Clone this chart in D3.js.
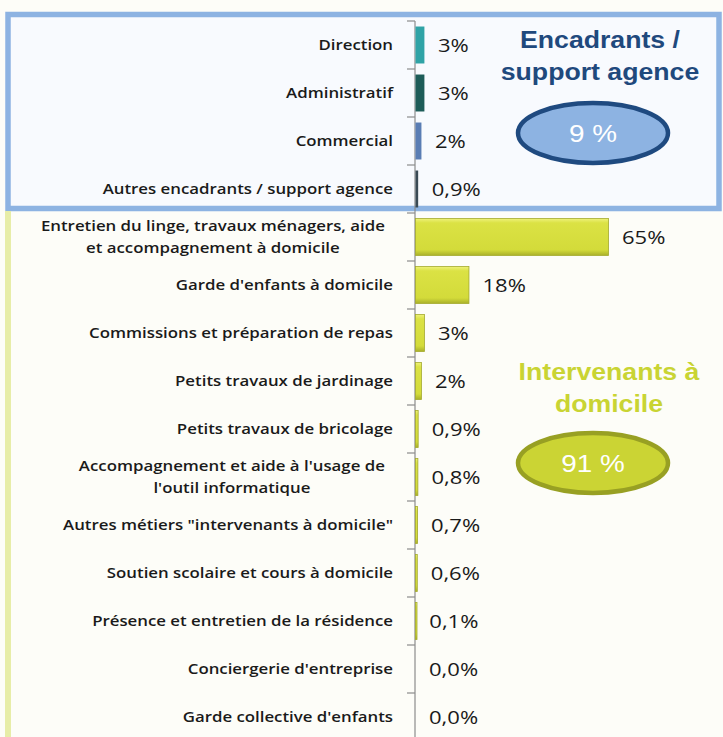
<!DOCTYPE html>
<html>
<head>
<meta charset="utf-8">
<script src="https://cdn.jsdelivr.net/npm/d3@7"></script>
<style>
  body { margin: 0; background: #fdfdf8; }
  svg { display: block; }
</style>
</head>
<body>
<div id="chart-area"></div>
<script>
// categories (top to bottom) - "\n" marks a line break in the label
let categories = [
	"Direction",
	"Administratif",
	"Commercial",
	"Autres encadrants / support agence",
	"Entretien du linge, travaux ménagers, aide\net accompagnement à domicile",
	"Garde d'enfants à domicile",
	"Commissions et préparation de repas",
	"Petits travaux de jardinage",
	"Petits travaux de bricolage",
	"Accompagnement et aide à l'usage de\nl'outil informatique",
	"Autres métiers \"intervenants à domicile\"",
	"Soutien scolaire et cours à domicile",
	"Présence et entretien de la résidence",
	"Conciergerie d'entreprise",
	"Garde collective d'enfants"
];
// share of jobs, %
let values = [3, 3, 2, 0.9, 65, 18, 3, 2, 0.9, 0.8, 0.7, 0.6, 0.1, 0.0, 0.0];
// group of each category
let groups = ["enc", "enc", "enc", "enc", "int", "int", "int", "int", "int", "int", "int", "int", "int", "int", "int"];

let groupTitles = {enc: ["Encadrants /", "support agence"], int: ["Intervenants à", "domicile"]};
let groupTotals = {enc: "9 %", int: "91 %"};

drawChart();

function drawChart() {
	let width = 723, height = 737;
	// the original picture is a bit stretched horizontally
	let stretch = 1.16;

	let svg = d3.select("#chart-area").append("svg")
		.attr("width", width)
		.attr("height", height);

	let defs = svg.append("defs");
	let grad = defs.append("linearGradient").attr("id", "bevel")
		.attr("x1", 0).attr("y1", 0).attr("x2", 0).attr("y2", 1);
	grad.append("stop").attr("offset", "0%").attr("stop-color", "#eef27a");
	grad.append("stop").attr("offset", "12%").attr("stop-color", "#dbe244");
	grad.append("stop").attr("offset", "85%").attr("stop-color", "#d3db3a");
	grad.append("stop").attr("offset", "100%").attr("stop-color", "#a9b02a");

	// background panels
	svg.append("rect")
		.attr("x", 8).attr("y", 14.5)
		.attr("width", 711).attr("height", 194)
		.attr("fill", "#f8fafe")
		.attr("stroke", "#8db3e2")
		.attr("stroke-width", 5.5);

	svg.append("line")
		.attr("x1", 8).attr("x2", 8)
		.attr("y1", 211).attr("y2", height)
		.attr("stroke", "#e7eda8")
		.attr("stroke-width", 6);

	// scales
	let y = d3.scaleBand()
		.domain(categories)
		.range([21, 741])
		.paddingInner(0.23)
		.paddingOuter(0.115);

	let x = d3.scaleLinear()
		.domain([0, 65])
		.range([415, 608]);

	let barColor = d3.scaleOrdinal()
		.domain(categories.slice(0, 4))
		.range(["#2fa3a6", "#1d5c58", "#5a7db4", "#3a4a55"])
		.unknown("url(#bevel)");

	// axis line and ticks at band boundaries
	let step = y.step();
	let boundaries = d3.range(categories.length + 1).map(i => 21 + i * step);

	svg.append("line")
		.attr("x1", x(0)).attr("x2", x(0))
		.attr("y1", 21).attr("y2", height)
		.attr("stroke", "#8c8c8c")
		.attr("stroke-width", 1.2);

	svg.selectAll(".tick-line").data(boundaries)
		.enter().append("line")
		.attr("class", "tick-line")
		.attr("x1", x(0) - 8).attr("x2", x(0))
		.attr("y1", d => d).attr("y2", d => d)
		.attr("stroke", "#8c8c8c")
		.attr("stroke-width", 1.2);

	// bars
	svg.selectAll(".bar").data(categories)
		.enter().append("rect")
		.attr("class", "bar")
		.attr("x", x(0) + 0.5)
		.attr("y", d => y(d))
		.attr("width", (d, i) => Math.max(x(values[i]) - x(0), values[i] > 0 ? 1.5 : 0))
		.attr("height", y.bandwidth())
		.attr("fill", d => barColor(d))
		.attr("stroke", (d, i) => groups[i] == "int" ? "#a3aa2c" : "none")
		.attr("stroke-width", 0.8);

	// value labels
	let fmt = v => v >= 1 ? d3.format(".0f")(v) + "%" : d3.format(".1f")(v).replace(".", ",") + "%";

	svg.selectAll(".value").data(categories)
		.enter().append("text")
		.attr("class", "value")
		.attr("transform", (d, i) => "translate(" + (x(values[i]) + 14) + "," + (y(d) + y.bandwidth() / 2) + ") scale(" + stretch + ",1)")
		.attr("dy", "0.35em")
		.attr("font-family", "'Open Sans', sans-serif")
		.attr("font-size", 19)
		.attr("fill", "#1a1a1a")
		.text((d, i) => fmt(values[i]));

	// category labels
	let labels = svg.selectAll(".cat").data(categories)
		.enter().append("text")
		.attr("class", "cat")
		.attr("font-family", "'Open Sans', sans-serif")
		.attr("font-weight", 600)
		.attr("font-size", 14.5)
		.attr("fill", "#1a1a1a");

	labels.each(function(d) {
		let lines = d.split("\n");
		let t = d3.select(this);
		let cy = y(d) + y.bandwidth() / 2;
		lines.forEach((l, j) => {
			t.append("tspan")
				.attr("x", 0)
				.attr("y", (j - (lines.length - 1) / 2) * 22)
				.attr("dy", "0.35em")
				.text(l);
		});
		if (lines.length == 1) {
			t.attr("text-anchor", "end")
				.attr("transform", "translate(393," + cy + ") scale(" + stretch + ",1)");
		} else {
			let w = d3.max(t.selectAll("tspan").nodes(), n => n.getComputedTextLength()) * stretch;
			t.attr("text-anchor", "middle")
				.attr("transform", "translate(" + (385 - w / 2) + "," + cy + ") scale(" + stretch + ",1)");
		}
	});

	// group titles and totals
	let groupStyle = {
		enc: {title: "#1f497d", fill: "#8db3e2", stroke: "#1f4a80", titleX: 600, titleY: 48, ellY: 133},
		int: {title: "#c9d433", fill: "#cbd434", stroke: "#98a023", titleX: 609, titleY: 380, ellY: 463}
	};

	Object.keys(groupTitles).forEach(g => {
		let s = groupStyle[g];
		svg.append("text")
			.attr("transform", "translate(" + s.titleX + "," + s.titleY + ") scale(" + stretch + ",1)")
			.attr("text-anchor", "middle")
			.attr("font-family", "'Liberation Sans', Arial, sans-serif")
			.attr("font-weight", "bold")
			.attr("font-size", 23)
			.attr("fill", s.title)
			.selectAll("tspan").data(groupTitles[g])
			.enter().append("tspan")
			.attr("x", 0)
			.attr("dy", (d, i) => i == 0 ? 0 : 32)
			.text(d => d);

		svg.append("ellipse")
			.attr("cx", 593).attr("cy", s.ellY)
			.attr("rx", 75).attr("ry", 30)
			.attr("fill", s.fill)
			.attr("stroke", s.stroke)
			.attr("stroke-width", 4.5);

		svg.append("text")
			.attr("transform", "translate(593," + s.ellY + ") scale(" + stretch + ",1)")
			.attr("dy", "0.36em")
			.attr("text-anchor", "middle")
			.attr("font-family", "'Liberation Sans', Arial, sans-serif")
			.attr("font-size", 24)
			.attr("fill", "#ffffff")
			.text(groupTotals[g]);
	});
}
</script>
</body>
</html>
